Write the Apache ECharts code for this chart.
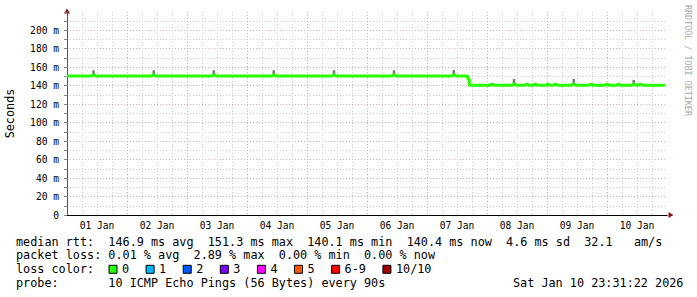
<!DOCTYPE html>
<html>
<head>
<meta charset="utf-8">
<script src="https://cdn.jsdelivr.net/npm/echarts@6/dist/echarts.min.js"></script>
<style>
html,body{margin:0;padding:0;background:#fff;}
#c{width:697px;height:297px;}
</style>
</head>
<body>
<div id="c"></div>
<script>
// hours since 01 Jan 00:00 and median RTT (ms) at change points (step line)
const rttHours = [0, 10.1, 11.3, 34.2, 35.4, 58.2, 59.4, 82.2, 83.4, 106.3, 107.5, 130.3, 131.5, 154.2, 155.4,
  160.3, 160.9, 169.5, 170.5, 178.3, 179.5, 183.5, 184.5, 186.8, 187.8, 191.9, 192.9, 194.8, 195.8,
  202.2, 203.4, 209.1, 210.1, 215.5, 216.5, 220.1, 221.1, 226.2, 227.4, 228.8, 229.8, 239.2];
const rttMs = [150.3, 151.4, 150.3, 151.4, 150.3, 151.4, 150.3, 151.4, 150.3, 151.4, 150.3, 151.4, 150.3, 151.4, 150.3,
  147.2, 140.4, 141.5, 140.4, 141.5, 140.4, 141.5, 140.4, 141.5, 140.4, 141.5, 140.4, 141.5, 140.4,
  141.5, 140.4, 141.5, 140.4, 141.5, 140.4, 141.5, 140.4, 141.5, 140.4, 141.5, 140.4, 140.4];
// smoke spikes (hours, base ms, top ms)
const smokeHours = [10.6, 34.7, 58.7, 82.7, 106.8, 130.8, 154.7, 178.8, 202.7, 226.7];
const smokeBase  = [151.4, 151.4, 151.4, 151.4, 151.4, 151.4, 151.4, 141.5, 141.5, 141.5];
const smokeTop   = [156.4, 156.5, 156.5, 156.4, 156.5, 156.5, 156.8, 147.0, 147.0, 146.0];
const dayLabels = ['01 Jan', '02 Jan', '03 Jan', '04 Jan', '05 Jan', '06 Jan', '07 Jan', '08 Jan', '09 Jan', '10 Jan'];
const lossLabels = ['0', '1', '2', '3', '4', '5', '6-9', '10/10'];
const lossColors = ['#26ff00', '#00b8ff', '#0059ff', '#7e00ff', '#ff00ff', '#ff5500', '#ff0000', '#a10000'];
const legendRows = [
  'median rtt:  146.9 ms avg  151.3 ms max  140.1 ms min  140.4 ms now  4.6 ms sd  32.1   am/s',
  'packet loss: 0.01 % avg  2.89 % max  0.00 % min  0.00 % now',
  'loss color:',
  'probe:       10 ICMP Echo Pings (56 Bytes) every 90s'
];
const stampText = 'Sat Jan 10 23:31:22 2026';
const watermark = 'RRDTOOL / TOBI OETIKER';

const MONO = '"DejaVu Sans Mono", monospace';
const RED = '#e4a6a6', GRAY = '#cdcdcd';
const chart = echarts.init(document.getElementById('c'), null, {renderer: 'svg'});

const rttData = rttHours.map((h, i) => [h, rttMs[i]]);
const smokeData = [];
smokeHours.forEach((h, i) => { smokeData.push([h, smokeBase[i]], [h, smokeTop[i]], '-'); });

const rowTop = [234.7, 248.2, 262.3, 275.7];
const titles = legendRows.map((t, i) => ({
  text: t, left: 16, top: rowTop[i], padding: 0,
  textStyle: {fontFamily: MONO, fontSize: 11.8, fontWeight: 'normal', color: '#000', lineHeight: 14}
}));
titles.push({text: stampText, left: 513, top: rowTop[3], padding: 0,
  textStyle: {fontFamily: MONO, fontSize: 11.8, fontWeight: 'normal', color: '#000', lineHeight: 14}});

const series = lossLabels.map((name, i) => ({
  name, type: 'line', color: lossColors[i],
  data: i === 0 ? rttData : [],
  step: 'end', showSymbol: false, symbol: 'none',
  lineStyle: {width: 3, color: lossColors[i]},
  z: 5, silent: true, animation: false
}));
series.push({
  name: 'smoke', type: 'line', data: smokeData, connectNulls: false,
  showSymbol: false, symbol: 'none', lineStyle: {width: 2.5, color: '#7a7a7a'},
  z: 4, silent: true, animation: false
});

chart.setOption({
  animation: false,
  backgroundColor: '#fff',
  title: titles,
  legend: {
    data: lossLabels, left: 108.5, top: 262.3, padding: 0, itemGap: 16.5,
    itemWidth: 8, itemHeight: 8, icon: 'rect', selectedMode: false,
    itemStyle: {borderColor: '#000', borderWidth: 1},
    textStyle: {fontFamily: MONO, fontSize: 11.8, color: '#000', lineHeight: 14}
  },
  grid: {left: 67, top: 12, right: 30, bottom: 82, containLabel: false, outerBoundsMode: 'none'},
  xAxis: [{
    type: 'value', min: 0, max: 240, interval: 6, position: 'bottom', z: 3,
    axisLine: {show: true, lineStyle: {color: '#000', width: 1}},
    axisTick: {show: false},
    axisLabel: {
      margin: 5, fontFamily: MONO, fontSize: 9.6, color: '#000',
      formatter: v => (v % 24 === 12 ? dayLabels[(v - 12) / 24] : '')
    },
    splitLine: {show: true, showMaxLine: false, lineStyle: {color: [RED, GRAY, GRAY, GRAY], type: [1, 2], width: 1}}
  }, {
    type: 'value', min: 0, max: 240, position: 'bottom', z: 2,
    axisLine: {show: true, symbol: ['none', 'triangle'], symbolSize: [6, 5], symbolOffset: [0, 4], lineStyle: {color: '#8b1010', width: 1}},
    axisTick: {show: false}, axisLabel: {show: false}, splitLine: {show: false}
  }],
  yAxis: [{
    type: 'value', min: 0, max: 219.5, interval: 10, position: 'left', z: 3,
    name: 'Seconds', nameLocation: 'middle', nameRotate: 90, nameGap: 51,
    nameTextStyle: {fontFamily: MONO, fontSize: 11.8, color: '#000'},
    axisLine: {show: true, lineStyle: {color: '#555', width: 1}},
    axisTick: {show: true, length: 3, lineStyle: {color: '#888'}},
    axisLabel: {
      margin: 8, fontFamily: MONO, fontSize: 9.6, color: '#000',
      formatter: v => (v % 20 === 0 && v <= 200 ? (v === 0 ? '0' : v + ' m') : '')
    },
    splitLine: {show: true, showMaxLine: false, lineStyle: {color: [RED, GRAY], type: [1, 2], width: 1}}
  }, {
    type: 'value', min: 0, max: 219.5, position: 'left', z: 2,
    axisLine: {show: true, symbol: ['none', 'triangle'], symbolSize: [6, 5], symbolOffset: [0, 1], lineStyle: {color: '#8b1010', width: 1}},
    axisTick: {show: false}, axisLabel: {show: false}, splitLine: {show: false}
  }],
  graphic: [{
    type: 'text', x: 688, y: 5, rotation: -Math.PI / 2, silent: true,
    style: {text: watermark, fill: '#a8a8a8', font: '8.4px "DejaVu Sans Mono", monospace', align: 'left', verticalAlign: 'middle'}
  }],
  series
});
</script>
</body>
</html>
